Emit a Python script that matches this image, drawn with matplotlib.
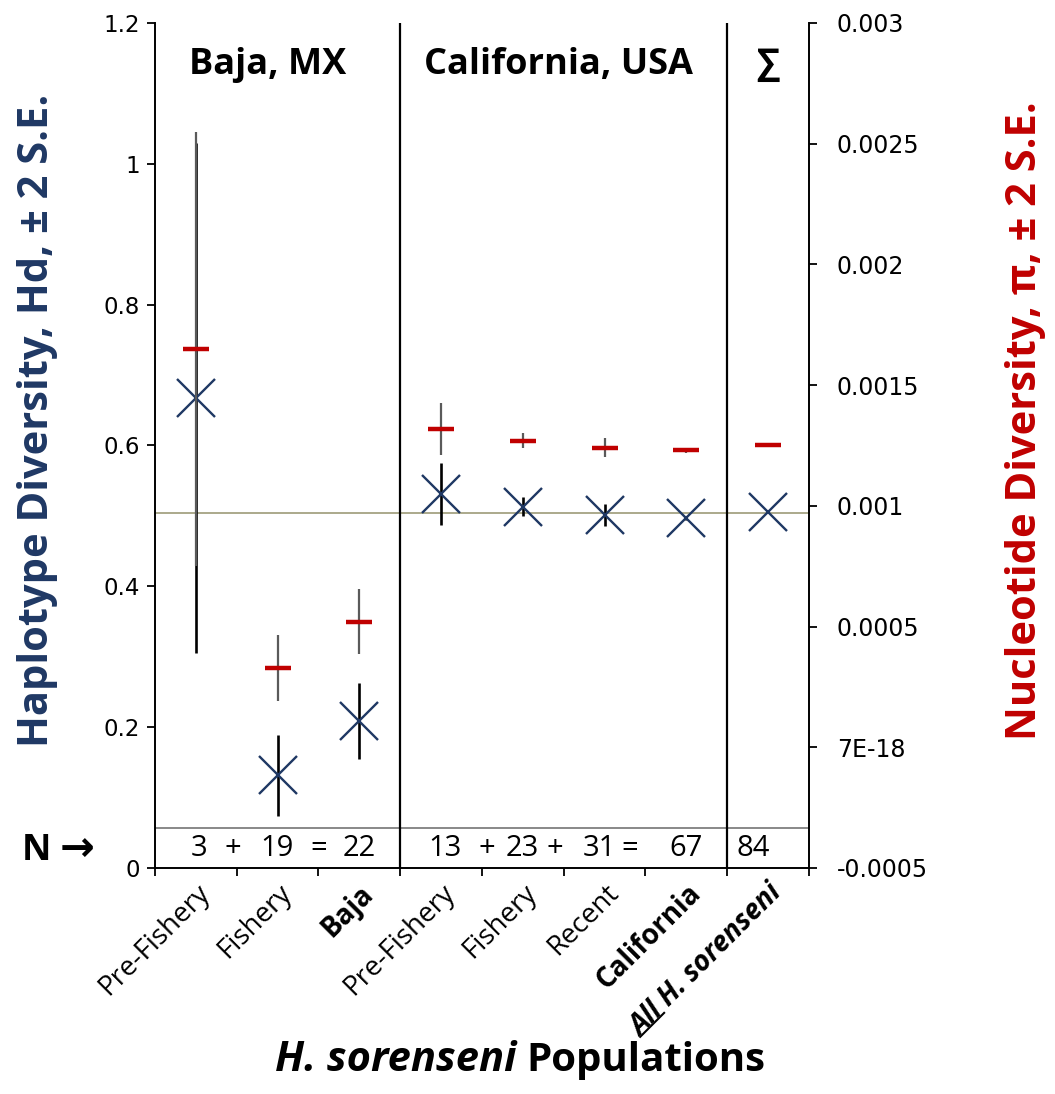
import numpy as np
import matplotlib
matplotlib.use('Agg')
import matplotlib.pyplot as plt
from matplotlib.lines import Line2D

plt.rcParams['font.family'] = ['Open Sans', 'DejaVu Sans']

# data
populations = ['Pre-Fishery', 'Fishery', 'Baja', 'Pre-Fishery', 'Fishery',
               'Recent', 'California', 'All H. sorenseni']
hd = [0.667, 0.132, 0.209, 0.531, 0.513, 0.501, 0.497, 0.506]
hd_err = [0.362, 0.0575, 0.054, 0.044, 0.0135, 0.0156, 0.003, 0.0]
pi = [0.00165, 0.00033, 0.00052, 0.00132, 0.00127, 0.00124, 0.00123, 0.00125]
pi_err = [0.0009, 0.000137, 0.000134, 0.000108, 0.000031, 0.000039, 0.00001, 0.0]
n_samples = ['3', '19', '22', '13', '23', '31', '67', '84']
n_ops = ['+', '=', '+', '+', '=']
regions = ['Baja, MX', 'California, USA', '\u2211']
hd_ref = 0.504

hd_ticks = [0, 0.2, 0.4, 0.6, 0.8, 1.0, 1.2]
hd_ticklabels = ['0', '0.2', '0.4', '0.6', '0.8', '1', '1.2']
pi_ticks = [-0.0005, 0, 0.0005, 0.001, 0.0015, 0.002, 0.0025, 0.003]
pi_ticklabels = ['-0.0005', '7E-18', '0.0005', '0.001', '0.0015', '0.002',
                 '0.0025', '0.003']

# layout bits (category units)
n_pos = [0.04, 0.99, 2.0, 3.05, 3.99, 4.93, 6.0, 6.82]
op_pos = [0.45, 1.5, 3.56, 4.39, 5.31]
region_pos = [0.88, 4.43, 7.0]
ROT = 45

navy = '#1f3864'
red = '#c00000'

fig = plt.figure(figsize=(10.55, 10.94), dpi=100)
ax = fig.add_axes([0.1469, 0.2066, 0.6199, 0.7724])
x = np.arange(len(populations))

ax.set_xlim(-0.5, len(populations) - 0.5)
ax.set_ylim(0, 1.2)
ax.axhline(hd_ref, color='#a5a282', lw=1.3, zorder=1)
ax.axhline(0.057, color='#7f7f7f', lw=1.3, zorder=1)
for b in [2.5, 6.5]:
    ax.axvline(b, color='black', lw=1.6)

ax.errorbar(x, hd, yerr=hd_err, fmt='x', color=navy, ms=27, mew=1.7,
            ecolor='black', elinewidth=1.9, capsize=0, zorder=3)

ax2 = ax.twinx()
ax2.set_ylim(-0.0005, 0.003)
ax2.errorbar(x, pi, yerr=pi_err, fmt='_', color=red, ms=19, mew=3.2,
             ecolor='#5a5a5a', elinewidth=1.6, capsize=0, zorder=3)

for a in (ax, ax2):
    a.spines['top'].set_visible(False)
    for s in a.spines.values():
        s.set_linewidth(1.4)
ax.spines['right'].set_visible(False)
ax2.spines['left'].set_visible(False)
ax2.spines['bottom'].set_visible(False)

ax.set_yticks(hd_ticks)
ax.set_yticklabels(hd_ticklabels)
ax.tick_params(axis='y', direction='out', length=6, width=1.3, labelsize=16.5,
               pad=5, labelfontfamily='DejaVu Sans')
ax2.set_yticks(pi_ticks)
ax2.set_yticklabels(pi_ticklabels)
ax2.tick_params(axis='y', direction='out', length=6, width=1.3, labelsize=17,
                pad=14, labelfontfamily='DejaVu Sans')

ax.set_xticks(x)
ax.set_xticklabels(populations, rotation=ROT, ha='right', va='top',
                   rotation_mode='anchor', fontsize=20)
ax.set_xticks(np.arange(-0.5, len(populations)), minor=True)
ax.tick_params(axis='x', which='major', length=0, pad=8)
ax.tick_params(axis='x', which='minor', direction='out', length=6, width=1.3)
lbls = ax.get_xticklabels()
lbls[2].set_fontweight('bold')
lbls[6].set_fontweight('bold')
lbls[7].set_fontweight('bold')
lbls[7].set_fontstyle('italic')

ax.set_ylabel('Haplotype Diversity, Hd, \u00b1 2 S.E.', color=navy,
              fontsize=30, fontweight='bold')
ax.yaxis.set_label_coords(-0.148, 0.53)
ax2.set_ylabel('Nucleotide Diversity, \u03c0, \u00b1 2 S.E.', color=red,
               fontsize=30, fontweight='bold')
ax2.yaxis.set_label_coords(1.3, 0.53)

for name, xp in zip(regions, region_pos):
    ax.text(xp, 1.14, name, ha='center', va='center', fontsize=26,
            fontweight='bold')

for n, xp in zip(n_samples, n_pos):
    ax.text(xp, 0.028, n, ha='center', va='center', fontsize=21)
for op, xp in zip(n_ops, op_pos):
    ax.text(xp, 0.028, op, ha='center', va='center', fontsize=21)

fig.text(22 / 1055, 1 - 851 / 1094, 'N', ha='left', va='center',
         fontsize=26, fontweight='bold')
fig.text(60 / 1055, 1 - 849 / 1094, '\u2192', ha='left', va='center',
         fontsize=30, fontweight='bold', family='DejaVu Sans')

fig.text(0.49, 0.031, 'H. sorenseni', ha='right', va='center',
         fontsize=30, fontweight='bold', fontstyle='italic')
fig.text(0.499, 0.031, 'Populations', ha='left', va='center',
         fontsize=29, fontweight='bold')

# underline "All" in the last tick label
fig.canvas.draw()
renderer = fig.canvas.get_renderer()
lbl = ax.get_xticklabels()[7]
prop = lbl.get_fontproperties()
ax_px, ay_px = lbl.get_transform().transform(lbl.get_position())
w_full, _, _ = renderer.get_text_width_height_descent(lbl.get_text(), prop, ismath=False)
w_all, _, _ = renderer.get_text_width_height_descent('All', prop, ismath=False)
h_lp, _, d_lp = renderer.get_text_width_height_descent('lp', prop, ismath=False)
v = -(h_lp - d_lp) - 0.12 * prop.get_size_in_points() * fig.dpi / 72
us = [-w_full, -w_full + w_all]
t = np.deg2rad(ROT)
xs = [ax_px + u * np.cos(t) - v * np.sin(t) for u in us]
ys = [ay_px + u * np.sin(t) + v * np.cos(t) for u in us]
pts = fig.transFigure.inverted().transform(np.column_stack([xs, ys]))
fig.add_artist(Line2D(pts[:, 0], pts[:, 1], color='black', lw=1.5,
                      transform=fig.transFigure))

fig.savefig('out.png', dpi=100)
